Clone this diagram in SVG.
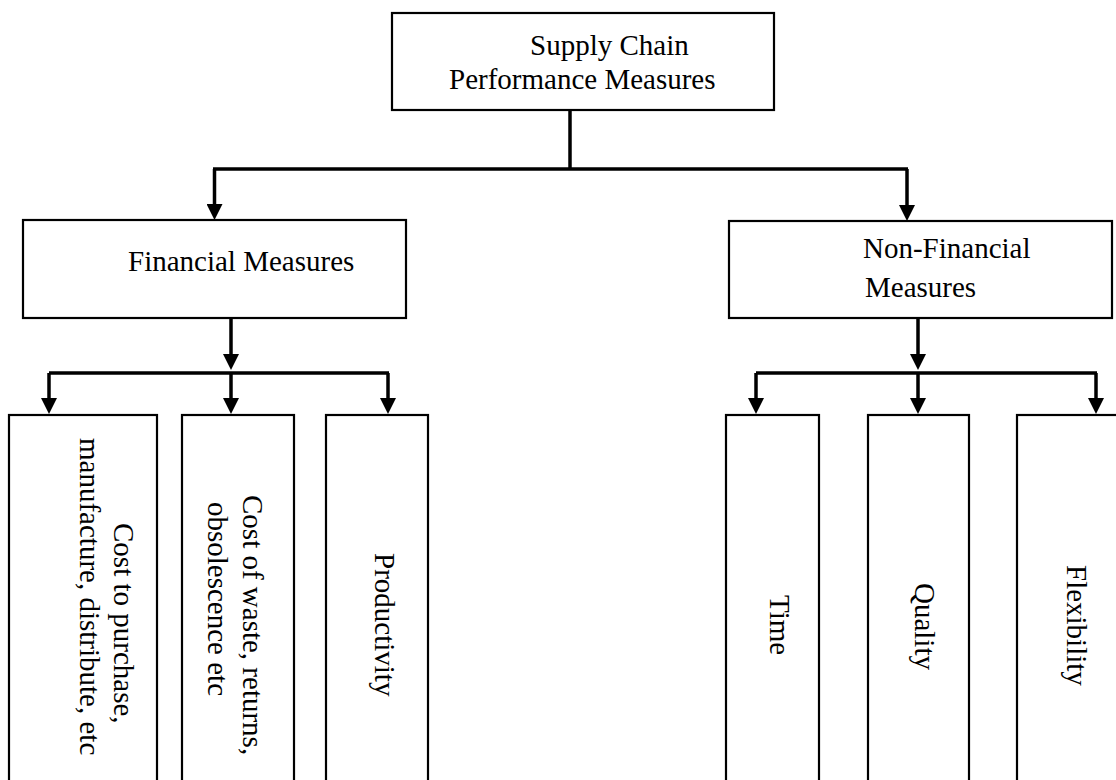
<svg xmlns="http://www.w3.org/2000/svg" width="1116" height="780" viewBox="0 0 1116 780">
<style>
.box{fill:#fff;stroke:#000;stroke-width:2.2}
.t{font-family:"Liberation Serif","Times New Roman",serif;font-size:29px;fill:#000}
.c{fill:none;stroke:#000;stroke-width:3.5}
</style>
<defs>
<marker id="ah" markerUnits="userSpaceOnUse" markerWidth="16" markerHeight="16" viewBox="0 0 16 16" refX="6" refY="8" orient="auto">
<path d="M0,0 L16,8 L0,16 z" fill="#000"/>
</marker>
</defs>
<rect width="1116" height="780" fill="#fff"/>
<g id="connectors">
<path class="c" d="M570,110 V169"/>
<path class="c" d="M213,169 H908"/>
<path class="c" d="M214.5,169 V210" marker-end="url(#ah)"/>
<path class="c" d="M907,169 V211" marker-end="url(#ah)"/>
<path class="c" d="M231,318 V360" marker-end="url(#ah)"/>
<path class="c" d="M49,373 H389"/>
<path class="c" d="M49,373 V404" marker-end="url(#ah)"/>
<path class="c" d="M231,373 V404" marker-end="url(#ah)"/>
<path class="c" d="M388,373 V404" marker-end="url(#ah)"/>
<path class="c" d="M918,318 V360" marker-end="url(#ah)"/>
<path class="c" d="M756,373 H1097"/>
<path class="c" d="M756,373 V404" marker-end="url(#ah)"/>
<path class="c" d="M918,373 V404" marker-end="url(#ah)"/>
<path class="c" d="M1096,373 V404" marker-end="url(#ah)"/>
</g>
<g id="root">
<rect class="box" x="392" y="13" width="382" height="97"/>
<text class="t" x="530" y="55">Supply Chain</text>
<text class="t" x="449" y="89">Performance Measures</text>
</g>
<g id="financial">
<rect class="box" x="23" y="220" width="383" height="98"/>
<text class="t" x="128" y="271">Financial Measures</text>
</g>
<g id="nonfinancial">
<rect class="box" x="729" y="221" width="383" height="97"/>
<text class="t" x="863" y="258">Non-Financial</text>
<text class="t" x="865" y="297">Measures</text>
</g>
<g id="cost-purchase">
<rect class="box" x="9" y="415" width="148" height="380"/>
<text class="t" transform="translate(114,523) rotate(90)">Cost to purchase,</text>
<text class="t" transform="translate(80,438) rotate(90)">manufacture, distribute, etc</text>
</g>
<g id="cost-waste">
<rect class="box" x="182" y="415" width="112" height="380"/>
<text class="t" transform="translate(243,495) rotate(90)">Cost of waste, returns,</text>
<text class="t" transform="translate(208,502) rotate(90)">obsolescence etc</text>
</g>
<g id="productivity">
<rect class="box" x="326" y="415" width="102" height="380"/>
<text class="t" transform="translate(375,553) rotate(90)">Productivity</text>
</g>
<g id="time">
<rect class="box" x="726" y="415" width="93" height="380"/>
<text class="t" transform="translate(770,595) rotate(90)">Time</text>
</g>
<g id="quality">
<rect class="box" x="868" y="415" width="101" height="380"/>
<text class="t" transform="translate(915,583) rotate(90)">Quality</text>
</g>
<g id="flexibility">
<rect class="box" x="1017" y="415" width="110" height="380"/>
<text class="t" transform="translate(1067,565) rotate(90)">Flexibility</text>
</g>
</svg>
